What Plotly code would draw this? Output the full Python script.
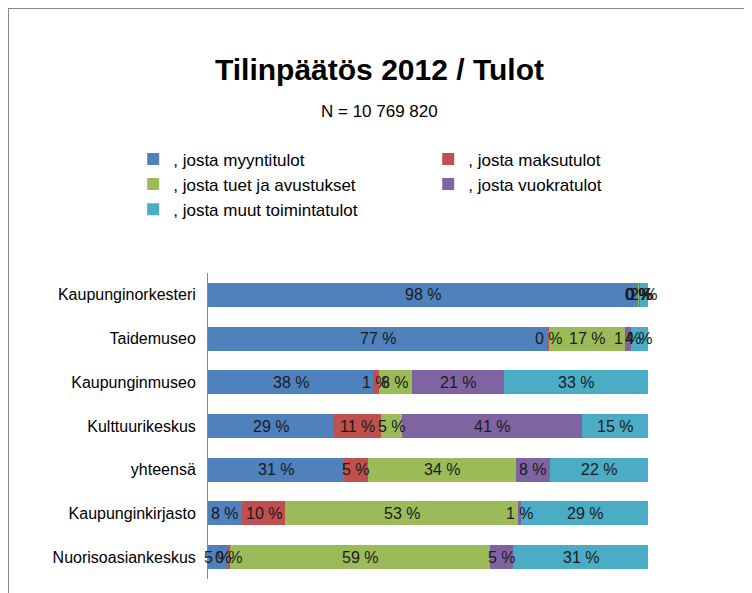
import plotly.graph_objects as go

categories = ["Kaupunginorkesteri", "Taidemuseo", "Kaupunginmuseo", "Kulttuurikeskus",
              "yhteensä", "Kaupunginkirjasto", "Nuorisoasiankeskus"]
series_names = [", josta myyntitulot", ", josta maksutulot", ", josta tuet ja avustukset",
                ", josta vuokratulot", ", josta muut toimintatulot"]
myynti = [97.8, 77.3, 37.6, 28.6, 31.0, 7.8, 4.7]
maksu = [0.1, 0.3, 1.2, 10.8, 5.4, 9.8, 0.2]
tuet = [0.2, 17.2, 7.6, 4.8, 33.6, 52.9, 59.3]
vuokra = [0.1, 1.3, 20.8, 40.8, 7.8, 0.7, 5.2]
muut = [1.8, 3.9, 32.8, 15.0, 22.2, 28.8, 30.6]
colors = ["#4F81BD", "#C0504D", "#9BBB59", "#8064A2", "#4BACC6"]

fig = go.Figure()
all_series = [myynti, maksu, tuet, vuokra, muut]
for name, vals, col in zip(series_names, all_series, colors):
    fig.add_trace(go.Bar(y=categories, x=vals, name=name, orientation="h",
                         marker=dict(color=col, line=dict(width=0)),
                         textposition="none"))

# data labels centred on each segment (Excel style, allowed to overflow)
for i, cat in enumerate(categories):
    start = 0
    for vals in all_series:
        v = vals[i]
        fig.add_annotation(x=start + v / 2, y=cat, text=f"{round(v)} %", showarrow=False,
                           font=dict(size=16, color="#1a1a1a", family="Liberation Sans"))
        start += v

fig.add_annotation(text="<b>Tilinpäätös 2012 / Tulot</b>", xref="paper", yref="paper",
                   x=0.39, y=1, yshift=222, showarrow=False,
                   font=dict(size=30, color="black", family="Liberation Sans"))
fig.add_annotation(text="N = 10 769 820", xref="paper", yref="paper",
                   x=0.39, y=1, yshift=173, showarrow=False,
                   font=dict(size=17, color="black", family="Liberation Sans"))

fig.update_layout(
    width=752, height=593, barmode="stack", bargap=0.45,
    margin=dict(l=200, r=112, t=265, b=22),
    plot_bgcolor="white", paper_bgcolor="white",
    font=dict(family="Liberation Sans", size=16, color="black"),
    legend=dict(orientation="h", x=-0.17, y=1.43, yanchor="top", xanchor="left",
                entrywidth=250, traceorder="normal", font=dict(size=17),
                itemwidth=30),
    xaxis=dict(range=[0, 100], showgrid=False, zeroline=False, showticklabels=False),
    yaxis=dict(autorange="reversed", showline=True, linecolor="#868686", linewidth=1,
               ticks="", ticklabelstandoff=8),
    shapes=[dict(type="rect", xref="paper", yref="paper", x0=-200/440, x1=1+112/440,
                 y0=-22/306, y1=1+265/306, line=dict(color="#888888", width=2))],
)
fig.write_html("out.html")
